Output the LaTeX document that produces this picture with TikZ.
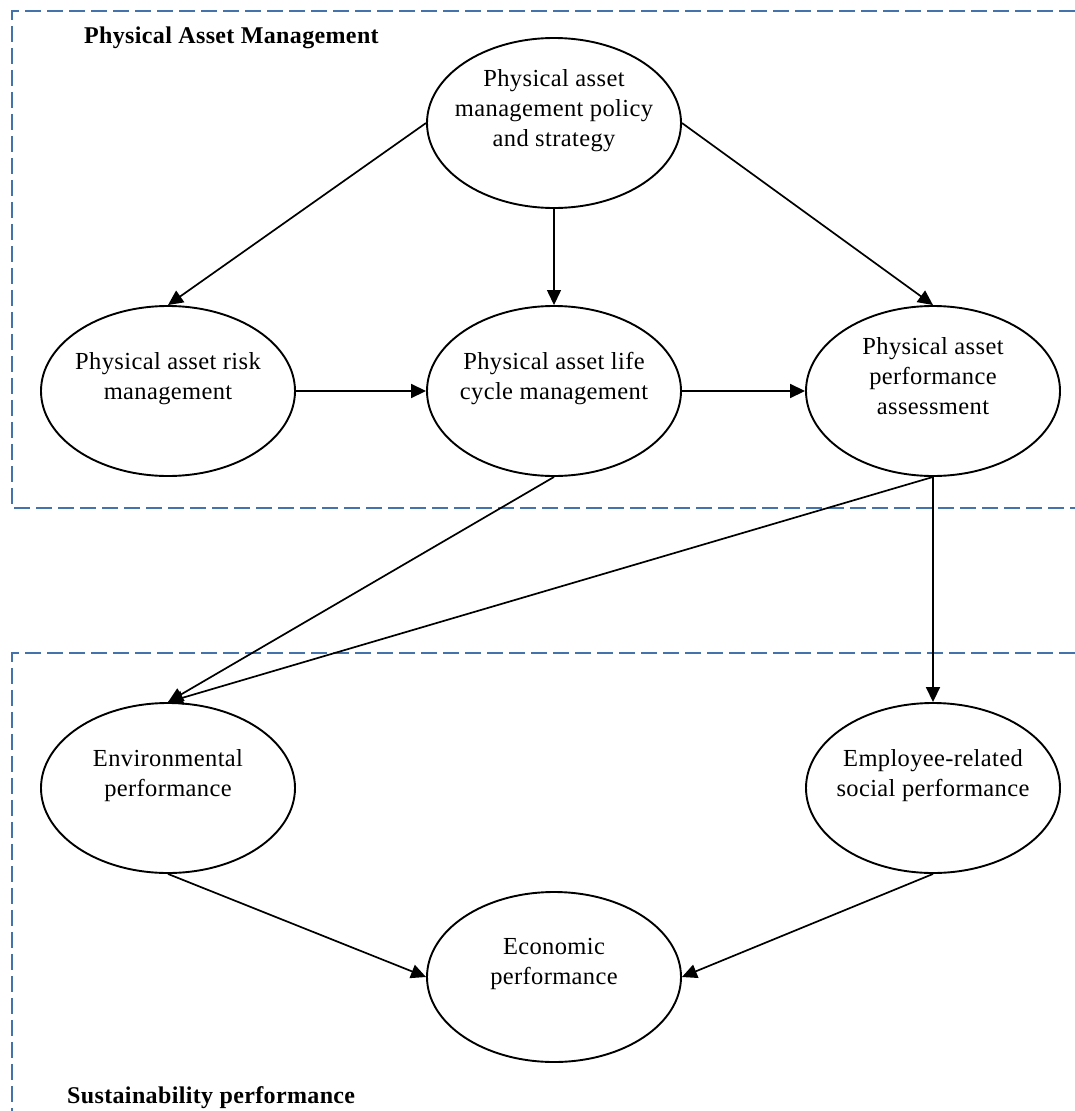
\documentclass[tikz,border=0pt]{standalone}
\usepackage{fontspec}
\setmainfont{Liberation Serif}[LetterSpace=1.5]
\usetikzlibrary{shapes.geometric,arrows.meta}
\definecolor{frameblue}{RGB}{68,114,170}
\newcommand{\padbelow}{\rule[-31pt]{0pt}{0pt}}
\begin{document}
\begin{tikzpicture}[x=1pt,y=-1pt,>={Triangle[length=15pt,width=14pt]},line width=1.7pt,
		bubble/.style={ellipse,draw,line width=1.9pt,minimum width=254pt,minimum height=170pt,inner xsep=-15pt,inner ysep=0pt,align=center,font=\fontsize{24.5}{30}\selectfont},
		frame/.style={draw=frameblue,line width=1.6pt,dash pattern=on 16pt off 6pt},
		heading/.style={anchor=base west,font=\fontsize{24}{30}\selectfont\bfseries}]
	\useasboundingbox (0,0) rectangle (1075,1111);
	\draw[frame] (1075,11) -- (12,11) -- (12,508) -- (1075,508);
	\draw[frame] (1075,653) -- (12,653) -- (12,1111);
	\node (PAM) at (80,43) [heading] {Physical Asset Management};
	\node (SP) at (63,1103) [heading] {Sustainability performance};
	\node (PS) at (554,123) [bubble] {Physical asset\\management policy\\and strategy\padbelow};
	\node (RM) at (168,391) [bubble] {Physical asset risk\\management\padbelow};
	\node (LC) at (554,391) [bubble] {Physical asset life\\cycle management\padbelow} edge [<-,line width=1.3pt] (PS) edge [<-] (RM);
	\node (PA) at (933,391) [bubble] {Physical asset\\performance\\assessment\padbelow} edge [<-] (LC);
	\node (EnP) at (168,788) [bubble] {Environmental\\performance\padbelow};
	\node (SoP) at (933,788) [bubble] {Employee-related\\social performance\padbelow} edge [<-] (PA);
	\node (EcP) at (554,977) [bubble] {Economic\\performance\padbelow};
	\draw[->] (PS.west) -- (RM.north);
	\draw[->] (PS.east) -- (PA.north);
	\draw[->] (LC.south) -- (EnP.north);
	\draw[->] (PA.south) -- (EnP.north);
	\draw[->] (EnP.south) -- (EcP.west);
	\draw[->] (SoP.south) -- (EcP.east);
\end{tikzpicture}
\end{document}
